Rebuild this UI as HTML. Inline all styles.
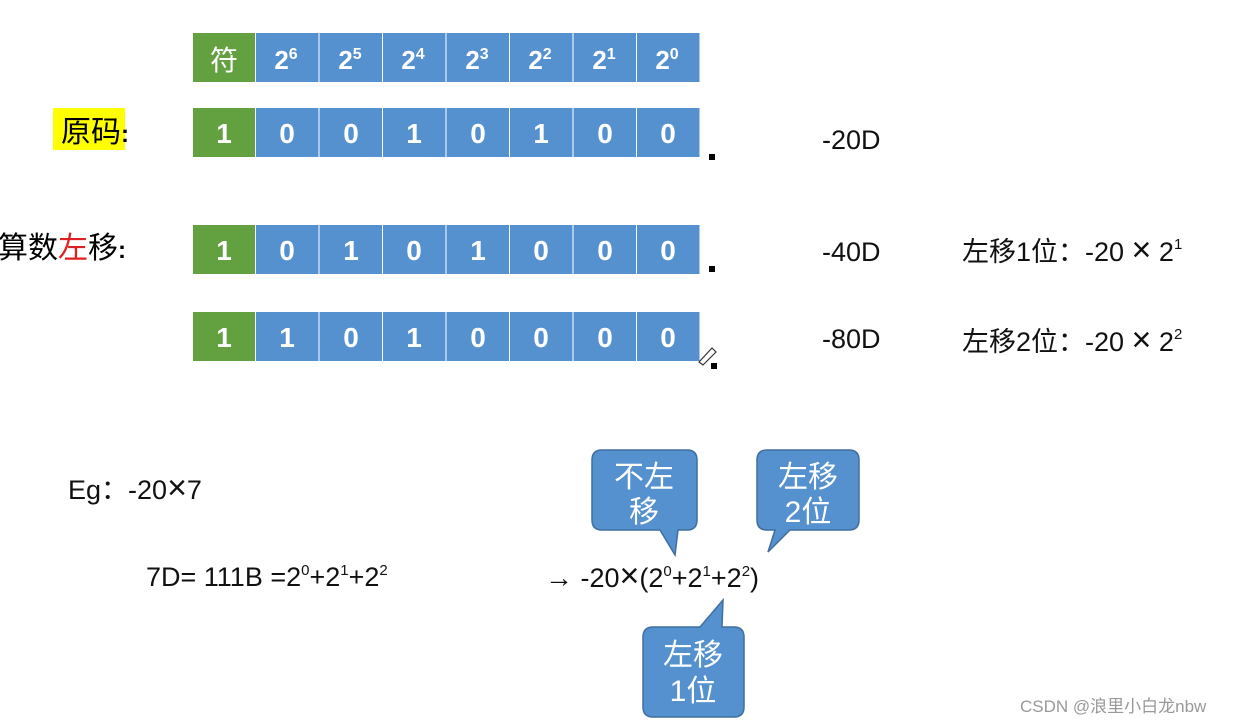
<!DOCTYPE html>
<html><head><meta charset="utf-8"><style>
body{margin:0;background:#fff;}
svg text{font-family:"Liberation Sans","Noto Sans CJK SC",sans-serif;}
</style></head><body>
<svg width="1245" height="723" xmlns="http://www.w3.org/2000/svg">
<g font-size="26" font-weight="bold" fill="#fff" text-anchor="middle">
<rect x="193" y="33" width="62" height="49" fill="#62a040"/>
<text x="224" y="70" font-weight="normal" font-size="28">符</text>
<g fill="#5590cf">
<rect x="256" y="33" width="62.5" height="49"/><rect x="319.5" y="33" width="62.5" height="49"/><rect x="383" y="33" width="62.5" height="49"/><rect x="446.5" y="33" width="62.5" height="49"/><rect x="510" y="33" width="62.5" height="49"/><rect x="573.5" y="33" width="62.5" height="49"/><rect x="637" y="33" width="62.5" height="49"/>
</g>
<text x="286" y="69">2<tspan font-size="16" dy="-10">6</tspan></text>
<text x="350" y="69">2<tspan font-size="16" dy="-10">5</tspan></text>
<text x="413" y="69">2<tspan font-size="16" dy="-10">4</tspan></text>
<text x="477" y="69">2<tspan font-size="16" dy="-10">3</tspan></text>
<text x="540" y="69">2<tspan font-size="16" dy="-10">2</tspan></text>
<text x="604" y="69">2<tspan font-size="16" dy="-10">1</tspan></text>
<text x="667" y="69">2<tspan font-size="16" dy="-10">0</tspan></text>
</g>
<g font-size="28" font-weight="bold" text-anchor="middle">
<rect x="193" y="108" width="62" height="49" fill="#62a040"/>
<g fill="#5590cf"><rect x="256" y="108" width="62.5" height="49"/><rect x="319.5" y="108" width="62.5" height="49"/><rect x="383" y="108" width="62.5" height="49"/><rect x="446.5" y="108" width="62.5" height="49"/><rect x="510" y="108" width="62.5" height="49"/><rect x="573.5" y="108" width="62.5" height="49"/><rect x="637" y="108" width="62.5" height="49"/></g>
<g fill="#fff"><text x="224" y="143">1</text><text x="287" y="143">0</text><text x="351" y="143">0</text><text x="414" y="143">1</text><text x="478" y="143">0</text><text x="541" y="143">1</text><text x="605" y="143">0</text><text x="668" y="143">0</text></g>
<rect x="193" y="225" width="62" height="49" fill="#62a040"/>
<g fill="#5590cf"><rect x="256" y="225" width="62.5" height="49"/><rect x="319.5" y="225" width="62.5" height="49"/><rect x="383" y="225" width="62.5" height="49"/><rect x="446.5" y="225" width="62.5" height="49"/><rect x="510" y="225" width="62.5" height="49"/><rect x="573.5" y="225" width="62.5" height="49"/><rect x="637" y="225" width="62.5" height="49"/></g>
<g fill="#fff"><text x="224" y="260">1</text><text x="287" y="260">0</text><text x="351" y="260">1</text><text x="414" y="260">0</text><text x="478" y="260">1</text><text x="541" y="260">0</text><text x="605" y="260">0</text><text x="668" y="260">0</text></g>
<rect x="193" y="312" width="62" height="49" fill="#62a040"/>
<g fill="#5590cf"><rect x="256" y="312" width="62.5" height="49"/><rect x="319.5" y="312" width="62.5" height="49"/><rect x="383" y="312" width="62.5" height="49"/><rect x="446.5" y="312" width="62.5" height="49"/><rect x="510" y="312" width="62.5" height="49"/><rect x="573.5" y="312" width="62.5" height="49"/><rect x="637" y="312" width="62.5" height="49"/></g>
<g fill="#fff"><text x="224" y="347">1</text><text x="287" y="347">1</text><text x="351" y="347">0</text><text x="414" y="347">1</text><text x="478" y="347">0</text><text x="541" y="347">0</text><text x="605" y="347">0</text><text x="668" y="347">0</text></g>
</g>
<g fill="#000"><rect x="709" y="154" width="6" height="6"/><rect x="709" y="266" width="6" height="6"/><rect x="711" y="363" width="6" height="6"/></g>
<path d="M699 362 L712 348 L716 352 L703 365 Z" fill="none" stroke="#333" stroke-width="1.2"/>
<rect x="53" y="108" width="72" height="42" fill="#ffff00"/>
<g font-size="30" fill="#000">
<text x="61" y="142">原码<tspan font-size="24" font-weight="bold">:</tspan></text>
<text x="-2" y="258">算数<tspan fill="#e02020">左</tspan>移<tspan font-size="24" font-weight="bold">:</tspan></text>
</g>
<g font-size="27" fill="#111">
<text x="822" y="149">-20D</text>
<text x="822" y="261">-40D</text>
<text x="822" y="348">-80D</text>
<text x="962" y="261">左移1位：-20 <tspan font-size="34">×</tspan> 2<tspan font-size="15" dy="-12">1</tspan></text>
<text x="962" y="351">左移2位：-20 <tspan font-size="34">×</tspan> 2<tspan font-size="15" dy="-12">2</tspan></text>
<text x="68" y="499">Eg：-20<tspan font-size="34">×</tspan>7</text>
<text x="146" y="586">7D= 111B =2<tspan font-size="15" dy="-11">0</tspan><tspan dy="11">+2</tspan><tspan font-size="15" dy="-11">1</tspan><tspan dy="11">+2</tspan><tspan font-size="15" dy="-11">2</tspan></text>
<text x="545" y="587"><tspan font-weight="bold" font-size="28">→</tspan> -20<tspan font-size="34">×</tspan>(2<tspan font-size="15" dy="-11">0</tspan><tspan dy="11">+2</tspan><tspan font-size="15" dy="-11">1</tspan><tspan dy="11">+2</tspan><tspan font-size="15" dy="-11">2</tspan><tspan dy="11">)</tspan></text>
</g>
<g fill="#5590cf" stroke="#3f6f9f" stroke-width="1.5">
<path d="M602 450 H687 Q697 450 697 460 V520 Q697 530 687 530 H678 L675 555 L660 530 H602 Q592 530 592 520 V460 Q592 450 602 450 Z"/>
<path d="M767 450 H849 Q859 450 859 460 V520 Q859 530 849 530 H790 L768 552 L775 530 H767 Q757 530 757 520 V460 Q757 450 767 450 Z"/>
<path d="M653 627 H700 L723 600 L722 627 H734 Q744 627 744 637 V707 Q744 717 734 717 H653 Q643 717 643 707 V637 Q643 627 653 627 Z"/>
</g>
<g font-size="30" fill="#fff" text-anchor="middle">
<text x="644" y="487">不左</text><text x="644" y="522">移</text>
<text x="808" y="487">左移</text><text x="808" y="522">2位</text>
<text x="693" y="665">左移</text><text x="693" y="701">1位</text>
</g>
<text x="1020" y="712" font-size="17" fill="#999">CSDN @浪里小白龙nbw</text>
</svg>
</body></html>
